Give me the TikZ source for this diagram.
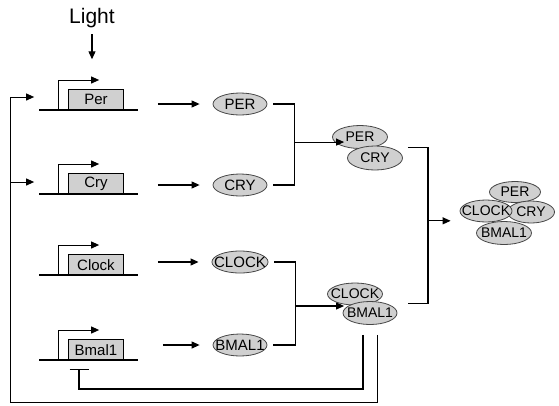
\documentclass[tikz,border=0pt]{standalone}
\usepackage{fontspec}
\setmainfont{Liberation Sans}
\usepackage{tikz}
\usetikzlibrary{positioning,calc,arrows.meta,shapes.geometric}
\definecolor{genefill}{RGB}{208,208,208}
\definecolor{protfill}{RGB}{208,208,208}
\definecolor{protline}{RGB}{70,70,70}

\begin{document}
\begin{tikzpicture}[x=1pt, y=-1pt, gene/.style={draw, line width=0.7pt, fill=genefill, minimum width=55pt, minimum height=20pt, inner sep=0pt, anchor=south, font=\fontsize{15}{17}\selectfont}, prot/.style={ellipse, draw=protline, line width=0.8pt, fill=protfill, minimum width=54pt, minimum height=22pt, inner xsep=-6pt, inner ysep=0pt, font=\fontsize{15}{17}\selectfont}, cplx/.style={prot, font=\fontsize{14}{16}\selectfont}, arrow/.style={-{Triangle[length=8pt,width=7pt]}, line width=1.1pt}, link/.style={line width=1.3pt}, dna/.style={line width=1.8pt}]
\useasboundingbox (0,0) rectangle (559,405);
% genes with promoters
\foreach \name/\lab/\y in {per/Per/110, cry/Cry/194, clk/Clock/275, bml/Bmal1/360}{
  \node[gene] (\name) at (96,\y) {\lab};
  \draw[dna] ([xshift=-29pt]\name.south west) -- ([xshift=14pt]\name.south east);
  \draw[arrow, line width=1pt] ([xshift=-10pt]\name.south west) -- ++(0,-30) -- ++(41,0);
}
\node[font=\fontsize{21}{24}\selectfont] (light) at (92,18) {Light};
\coordinate (lightTip) at ([xshift=-4pt,yshift=30pt]per.north);
\draw[arrow, shorten <=3pt] (light) -- (lightTip);
% proteins
\node[prot] (pPer) at (240,104) {PER};
\node[prot] (pCry) at (240,185) {CRY};
\node[prot] (pClock) at (240,262) {CLOCK};
\node[prot] (pBmal) at (240,345) {BMAL1};
\draw[arrow, shorten <=34pt, shorten >=13pt] (pPer.west -| per.east) -- (pPer.west);
\draw[arrow, shorten <=34pt, shorten >=13pt] (pCry.west -| cry.east) -- (pCry.west);
\draw[arrow, shorten <=34pt, shorten >=13pt] (pClock.west -| clk.east) -- (pClock.west);
\draw[arrow, shorten <=39pt, shorten >=13pt] (pBmal.west -| bml.east) -- (pBmal.west);
% complexes
\node[cplx, minimum width=55pt, minimum height=23pt] (cPer) at (360,137) {PER};
\node[cplx, minimum width=55pt, minimum height=24pt] (cCry) at (375,158) {CRY};
\node[cplx, minimum width=55pt] (cClock) at (355,294) {CLOCK};
\node[cplx, minimum width=54pt, minimum height=23pt] (cBmal) at (370,313) {BMAL1};
\draw[link] ([xshift=6pt]pPer.east) -- ++(21,0) |- ([xshift=6pt]pCry.east);
\draw[link] ([xshift=6pt]pClock.east) -- ++(21,0) |- ([xshift=6pt]pBmal.east);
\coordinate (m1) at ($(pPer.east)!0.47!(pCry.east)$);
\coordinate (m2) at ($(pClock.east)!0.53!(pBmal.east)$);
\draw[arrow, shorten >=15pt] ([xshift=27pt]m1) -- ([xshift=27pt]m1 -| cPer.west);
\draw[arrow, shorten >=10pt] ([xshift=27pt]m2) -- ([xshift=27pt]m2 -| cClock.west);
% final complex
\node[cplx, minimum width=51pt, minimum height=21pt] (fPer) at (515,192) {PER};
\node[cplx, minimum width=47pt] (fCry) at (531,212) {CRY};
\node[cplx, minimum width=52pt] (fClock) at (486,211) {CLOCK};
\node[cplx, minimum width=55pt, minimum height=23pt] (fBmal) at (504,233) {BMAL1};
\coordinate (k1) at ($(cPer)!0.5!(cCry)$);
\coordinate (k2) at ($(cClock)!0.5!(cBmal)$);
\draw[link] ([xshift=5pt]cCry.east |- k1) -- ++(20,0) |- ([xshift=11pt]cBmal.east |- k2);
\coordinate (m3) at ($(k1)!0.47!(k2)$);
\draw[arrow, shorten >=9pt] ([xshift=5pt]cCry.east |- m3) ++(20,0) -- (m3 -| fClock.west);
% feedback
\coordinate (tbar) at ([xshift=-17pt,yshift=-9pt]bml.south);
\coordinate (corner) at (10,0);
\coordinate (inPer) at ([xshift=-34pt,yshift=13pt]per.south west);
\coordinate (inCry) at ([xshift=-34pt,yshift=12pt]cry.south west);
\draw[link, -{Bar[width=19pt]}] ([xshift=-7pt,yshift=-10pt]cBmal.south) -- ++(0,54) -| (tbar);
\draw[link, line width=1pt] ([xshift=7pt,yshift=-10pt]cBmal.south) -- ++(0,68) -| (corner |- inPer);
\draw[arrow, line width=1pt] (corner |- inPer) -- (inPer);
\draw[arrow, line width=1pt] (corner |- inCry) -- (inCry);
\end{tikzpicture}
\end{document}
